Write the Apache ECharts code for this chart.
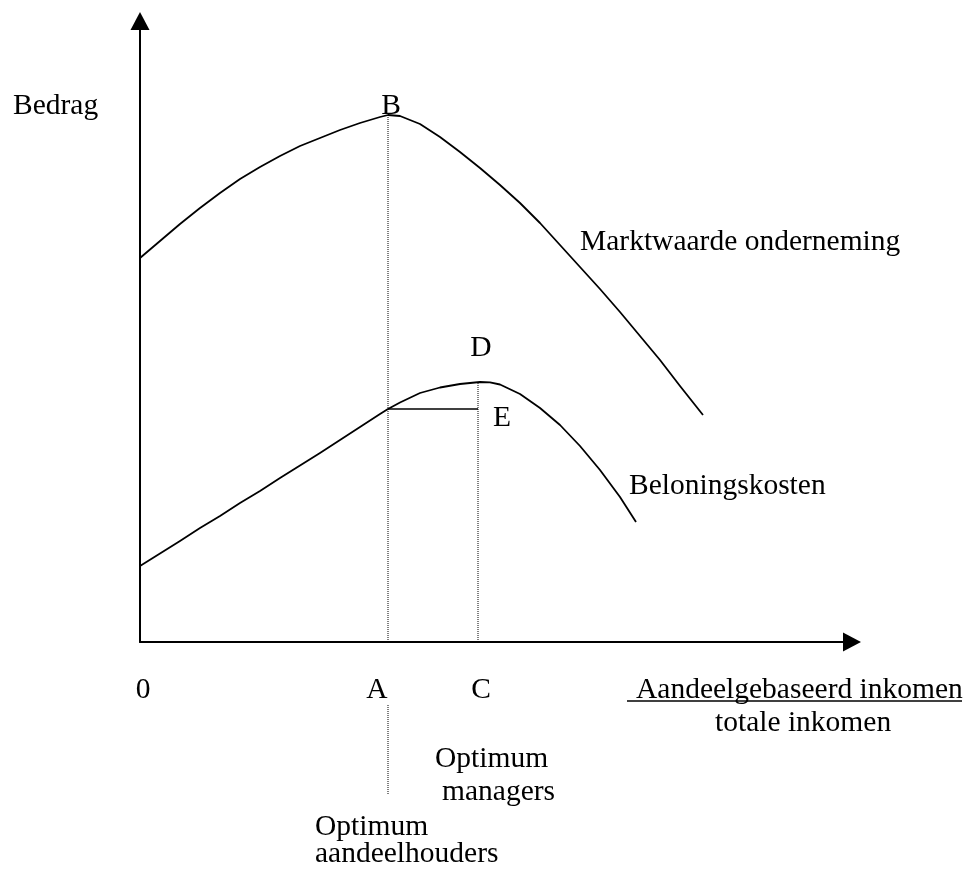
<!DOCTYPE html>
<html>
<head>
<meta charset="utf-8">
<script src="https://cdn.jsdelivr.net/npm/echarts@6/dist/echarts.min.js"></script>
<style>
html,body{margin:0;padding:0;background:#fff;}
#chart{width:972px;height:871px;}
</style>
</head>
<body>
<div id="chart"></div>
<script>
// Market value curve (Marktwaarde onderneming)
const marketX = [0, 20, 40, 60, 80, 100, 120, 140, 160, 180, 200, 220, 240, 248, 260, 280, 300, 320, 340, 360, 380, 400, 420, 440, 460, 480, 500, 520, 540, 563];
const marketY = [384, 401, 418, 434, 449, 463, 475, 486, 496, 504, 512, 519, 525, 527, 526, 518, 505, 490, 474, 457, 439, 419, 397, 375, 353, 330, 306, 282, 256, 227];
// Reward costs curve (Beloningskosten)
const costX = [0, 20, 40, 60, 80, 100, 120, 140, 160, 180, 200, 220, 240, 248, 260, 280, 300, 320, 340, 350, 360, 380, 400, 420, 440, 460, 480, 496];
const costY = [76, 88.5, 101, 114, 126, 139, 151, 164, 176.5, 189, 202, 215, 228, 233, 239.5, 249, 254.5, 258, 260, 259.7, 257.5, 248, 234, 217, 196, 172, 145, 120];
// Key points
const pointA = 248;   // optimum aandeelhouders
const pointC = 338;   // optimum managers
const peakB = 527;
const peakCostAtC = 259.5;
const levelE = 233;
const xTickLabels = ['0', 'A', 'C'];

const FONT = 'Liberation Serif';
const FS = 29.5;

const chart = echarts.init(document.getElementById('chart'), null, {renderer: 'canvas'});

const zip = (xs, ys) => xs.map((x, i) => [x, ys[i]]);

const axisCommon = {
  type: 'value',
  axisLine: {show: true, lineStyle: {color: '#000', width: 2}, symbol: ['none', 'triangle'], symbolSize: [19, 18]},
  axisTick: {show: false},
  axisLabel: {show: false},
  splitLine: {show: false}
};

chart.setOption({
  animation: false,
  backgroundColor: '#fff',
  grid: {left: 140, right: 120, top: 21, bottom: 229, containLabel: false},
  xAxis: Object.assign({}, axisCommon, {min: 0, max: 712}),
  yAxis: Object.assign({}, axisCommon, {min: 0, max: 621}),
  series: [
    {type: 'line', data: zip(marketX, marketY), showSymbol: false, smooth: false,
     lineStyle: {color: '#000', width: 1.8, join: 'round'}},
    {type: 'line', data: zip(costX, costY), showSymbol: false, smooth: false,
     lineStyle: {color: '#000', width: 1.8, join: 'round'}},
    {type: 'line', data: [[pointA, 0], [pointA, peakB]], showSymbol: false,
     lineStyle: {color: '#000', width: 1, type: [1, 1]}},
    {type: 'line', data: [[pointC, 0], [pointC, peakCostAtC]], showSymbol: false,
     lineStyle: {color: '#000', width: 1, type: [1, 1]}},
    {type: 'line', data: [[pointA, levelE], [pointC, levelE]], showSymbol: false,
     lineStyle: {color: '#000', width: 1.6}}
  ]
});

const px = (x, y) => chart.convertToPixel({gridIndex: 0}, [x, y]);
const origin = px(0, 0);
const axisY = origin[1];
const BASE = -8; // baseline -> middle offset

function txt(text, x, yBase, align) {
  return {type: 'text', x: x, y: yBase + BASE,
    style: {text: text, font: FS + 'px "' + FONT + '"', fill: '#000', align: align || 'left', verticalAlign: 'middle'}};
}

const pA = px(pointA, 0), pC = px(pointC, 0), pB = px(pointA, peakB), pD = px(pointC, peakCostAtC), pE = px(pointC, levelE);

chart.setOption({
  graphic: [
    txt('Bedrag', 13, 114),
    txt('B', pB[0] + 3, pB[1] - 1, 'center'),
    txt('Marktwaarde onderneming', 580, 250),
    txt('D', pD[0] + 3, pD[1] - 26, 'center'),
    txt('E', pE[0] + 24, pE[1] + 17, 'center'),
    txt('Beloningskosten', 629, 494),
    txt(xTickLabels[0], origin[0] + 3, axisY + 56, 'center'),
    txt(xTickLabels[1], pA[0] - 11, axisY + 56, 'center'),
    txt(xTickLabels[2], pC[0] + 3, axisY + 56, 'center'),
    txt('Aandeelgebaseerd inkomen', 636, axisY + 56),
    {type: 'line', shape: {x1: 627, y1: axisY + 59, x2: 962, y2: axisY + 59}, style: {stroke: '#000', lineWidth: 1.5}},
    txt('totale inkomen', 715, axisY + 89),
    {type: 'line', shape: {x1: pA[0], y1: axisY + 63, x2: pA[0], y2: axisY + 153},
     style: {stroke: '#000', lineWidth: 1, lineDash: [1, 1]}},
    txt('Optimum', 435, 767),
    txt('managers', 442, 800),
    txt('Optimum', 315, 835),
    txt('aandeelhouders', 315, 862)
  ]
});
</script>
</body>
</html>
